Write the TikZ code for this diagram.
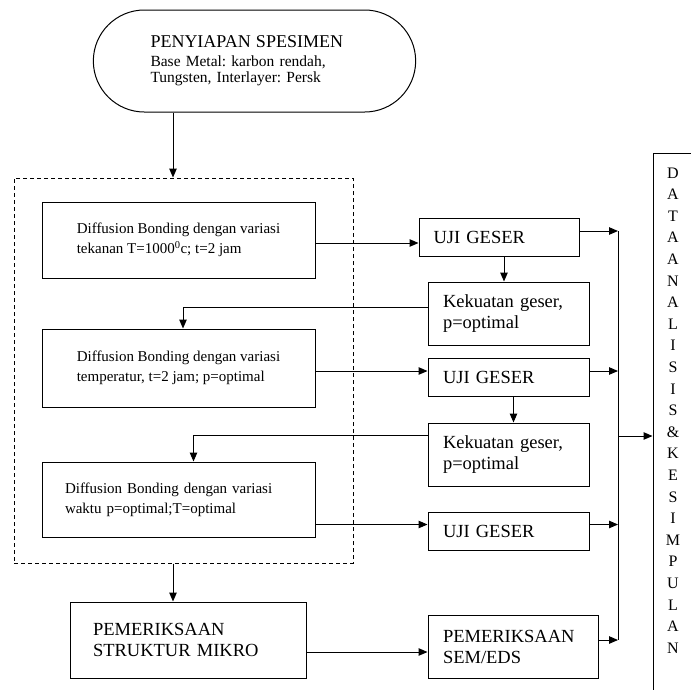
\documentclass[tikz,border=0pt]{standalone}
\usepackage{fontspec}
\setmainfont{Liberation Serif}
\frenchspacing
\usetikzlibrary{arrows.meta,shapes.misc}
\newcommand{\capsfont}{\fontsize{18.5}{21}\selectfont}
\newcommand{\stagefont}{\fontsize{15}{20}\selectfont}
\newcommand{\prepfont}{\fontsize{15.5}{16}\selectfont}
\newcommand{\vfont}{\fontsize{16}{21.6}\selectfont}

\begin{document}
\begin{tikzpicture}[x=1pt,y=-1pt,line width=1pt,
    >={Triangle[length=9pt,width=7.5pt]},
    term/.style={draw,rounded rectangle,minimum width=329pt,minimum height=102pt,
      align=left,text width=208pt,font=\prepfont},
    group/.style={draw,dash pattern=on 4pt off 3pt,minimum width=339pt,minimum height=385pt},
    stage/.style={draw,align=left,minimum width=273pt,font=\stagefont},
    test/.style={draw,align=left,inner xsep=0pt,minimum width=161pt,text width=131pt,font=\capsfont},
    vtext/.style={align=center,font=\vfont}]
  \useasboundingbox (0,0) rectangle (691,689);
  \clip (0,0) rectangle (691,689);

  %% preparation and the dashed group
  \node[term] (prep) at (254.5,61)
    {{\fontsize{18}{21}\selectfont PENYIAPAN SPESIMEN}\\[3pt]
     Base Metal: karbon rendah,\\ Tungsten, Interlayer: Persk};
  \node[group] (grp) at (183.5,370.5) {};
  \node[stage,minimum height=76pt] (db1) at (178.5,240)
    {Diffusion Bonding dengan variasi\\ tekanan T=1000\textsuperscript{0}c; t=2 jam};
  \node[stage,minimum height=78pt] (db2) at (178.5,368)
    {Diffusion Bonding dengan variasi\\ temperatur, t=2 jam; p=optimal};
  \node[stage,minimum height=75pt,text width=227pt] (db3) at (178.5,499.5)
    {Diffusion Bonding dengan variasi\\ waktu p=optimal;T=optimal};
  \node[test,minimum width=236pt,text width=190pt,minimum height=76pt] (mikro) at (188,640)
    {PEMERIKSAAN\\ STRUKTUR MIKRO};

  %% tests
  \node[test,minimum width=160pt,minimum height=38pt] (uji1) at (499,237) {UJI GESER};
  \node[test,minimum height=63pt] (kuat1) at (508.5,313.5) {Kekuatan geser,\\ p=optimal};
  \node[test,minimum height=38pt] (uji2) at (508.5,377) {UJI GESER};
  \node[test,minimum height=63pt] (kuat2) at (508.5,454.5) {Kekuatan geser,\\ p=optimal};
  \node[test,minimum height=38pt] (uji3) at (508.5,531) {UJI GESER};
  \node[test,minimum width=170pt,text width=140pt,minimum height=63pt] (sem) at (513,646.5)
    {PEMERIKSAAN\\ SEM/EDS};

  %% result
  \node[draw,minimum width=40pt,minimum height=566pt] (hasil) at (673,436) {};
  \node[vtext] (hasil-t) at (673,410.5)
    {D\\A\\T\\A\\A\\N\\A\\L\\I\\S\\I\\S\\\&\\K\\E\\S\\I\\M\\P\\U\\L\\A\\N};

  %% left column
  \coordinate (grp-in) at ([xshift=-10.5pt]grp.north);
  \coordinate (grp-out) at ([xshift=-10.5pt]grp.south);
  \draw[->] (grp-in |- prep.south) -- (grp-in);
  \draw[->] (grp-out) -- (grp-out |- mikro.north);

  %% to the tests and back
  \draw[->] ([yshift=-3pt]db1.east) -- ([yshift=-3pt]db1.east -| uji1.west);
  \draw[->] ([xshift=5pt]uji1.south) -- ([xshift=5pt]uji1.south |- kuat1.north);
  \draw[->] ([yshift=6.5pt]kuat1.west) -| ([xshift=4.5pt]db2.north);
  \draw[->] ([yshift=-3pt]db2.east) -- ([yshift=-3pt]db2.east -| uji2.west);
  \draw[->] ([xshift=5pt]uji2.south) -- ([xshift=5pt]uji2.south |- kuat2.north);
  \draw[->] ([yshift=19pt]kuat2.west) -| ([xshift=15pt]db3.north);
  \draw[->] ([yshift=-25pt]db3.east) -- ([yshift=-25pt]db3.east -| uji3.west);
  \draw[->] ([yshift=-12pt]mikro.east) -- ([yshift=-12pt]mikro.east -| sem.west);

  %% collecting line
  \coordinate (bus-top) at (618,231);
  \coordinate (bus-bot) at (618,640);
  \draw (bus-top) -- (bus-bot);
  \draw[->] ([yshift=6pt]uji1.east) -- ([yshift=6pt]uji1.east -| bus-top);
  \draw[->] ([yshift=6pt]uji2.east) -- ([yshift=6pt]uji2.east -| bus-top);
  \draw[->] ([yshift=6.5pt]uji3.east) -- ([yshift=6.5pt]uji3.east -| bus-top);
  \draw[->] ([yshift=6.5pt]sem.east) -- ([yshift=6.5pt]sem.east -| bus-top);
  \draw[->] (bus-top |- hasil.west) -- (hasil.west);
\end{tikzpicture}
\end{document}
